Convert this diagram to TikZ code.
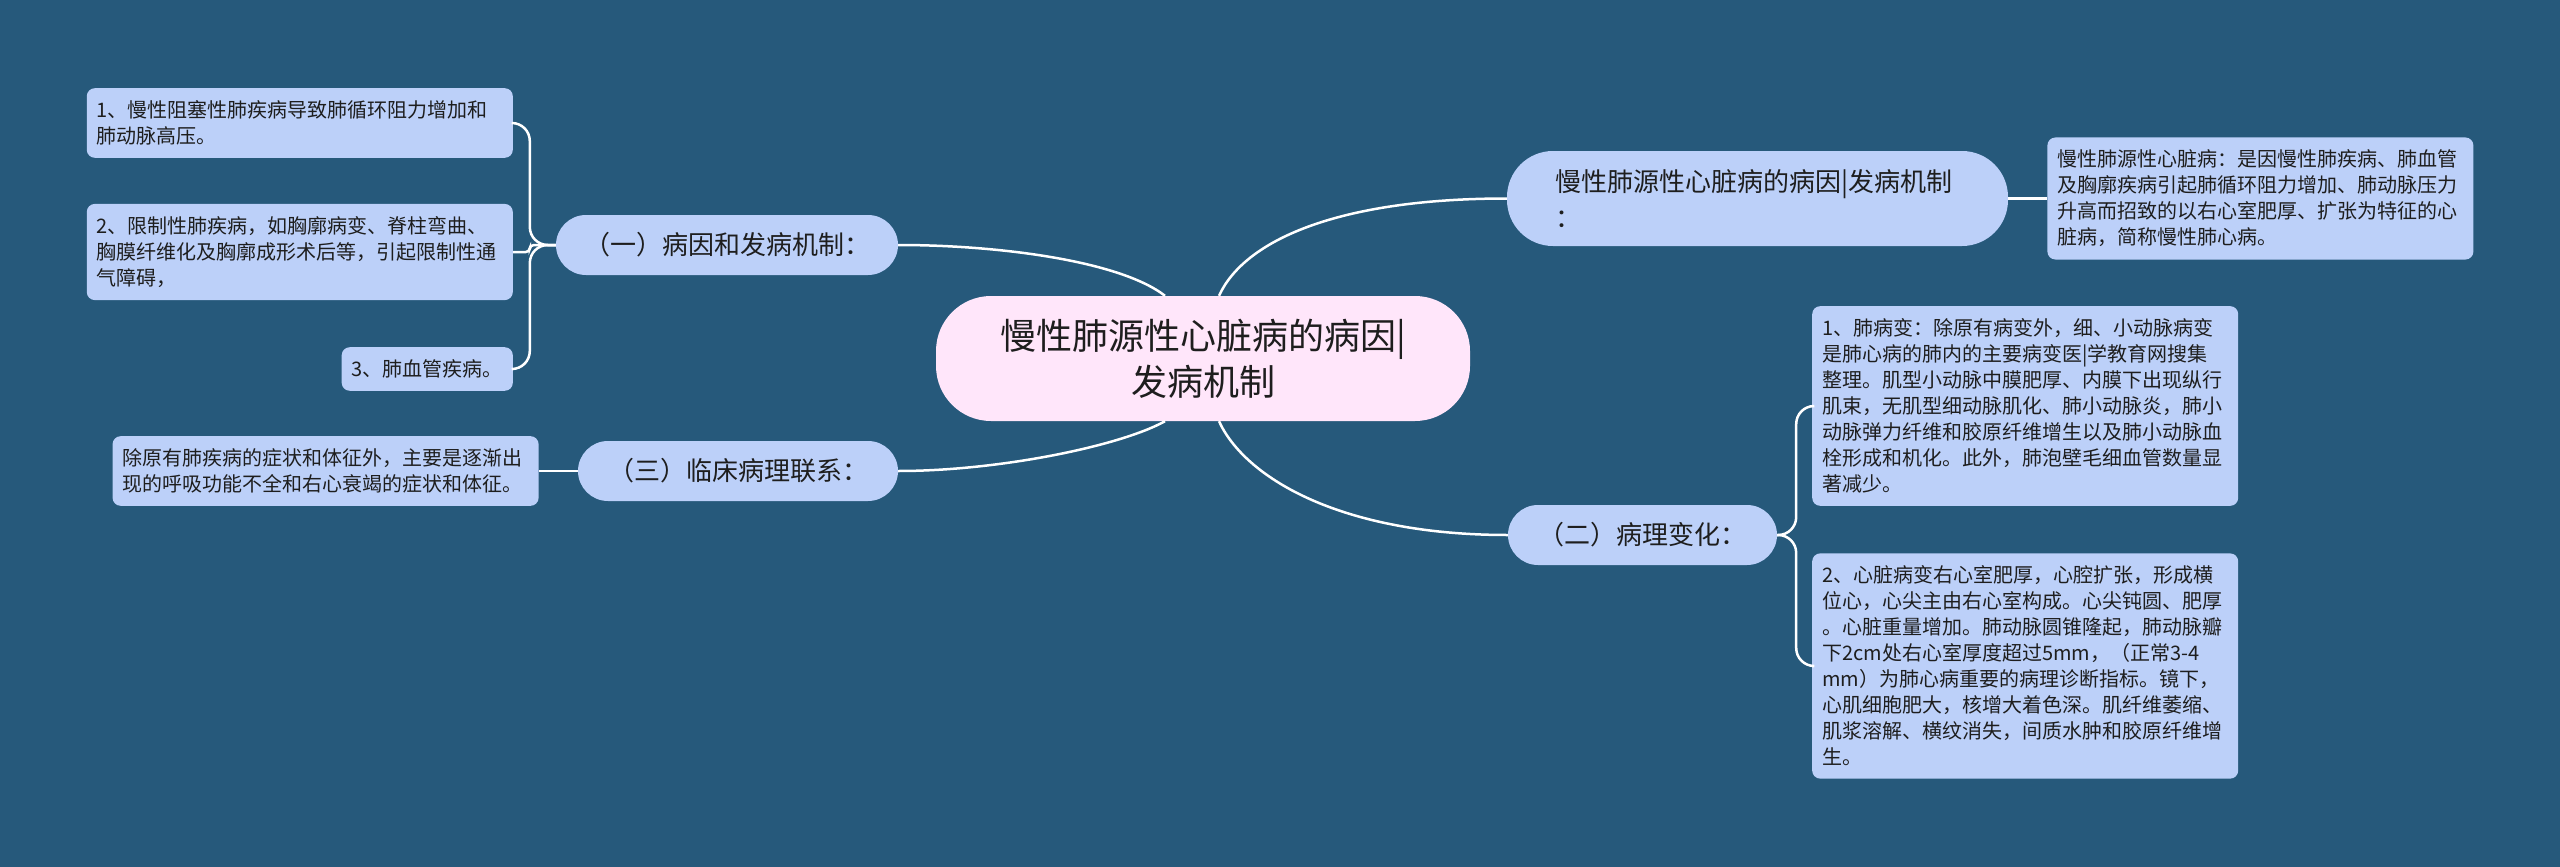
\documentclass[tikz,border=0pt]{standalone}
\usepackage{fontspec}
\setmainfont{Noto Sans CJK SC}
\usetikzlibrary{positioning}
\definecolor{bgblue}{RGB}{38,89,123}
\definecolor{leafblue}{RGB}{188,208,249}
\definecolor{hubpink}{RGB}{255,230,250}
\definecolor{inkgray}{RGB}{30,30,30}
\tikzset{
  hub/.style={rectangle, rounded corners=55pt, fill=hubpink, text=inkgray,
              minimum width=534pt, minimum height=125pt, align=center,
              font=\fontsize{36}{46}\selectfont},
  topic/.style={rectangle, rounded corners=30pt, fill=leafblue, text=inkgray,
              minimum height=60pt, align=center, font=\fontsize{26}{36}\selectfont},
  leaf/.style={rectangle, rounded corners=8pt, fill=leafblue, text=inkgray,
              inner xsep=10pt, inner ysep=12.5pt, align=left,
              font=\fontsize{20}{26}\selectfont},
  wide/.style={text width=406pt},
  link/.style={draw=white, line width=2.5pt}
}
\begin{document}
\begin{tikzpicture}[x=1pt, y=-1pt]
\useasboundingbox (0,0) rectangle (2560,867);
\fill[bgblue] (0,0) rectangle (2560,867);

% centre
\node (hub) [hub] at (1203,358.5) {慢性肺源性心脏病的病因|\\发病机制};

% left side
\node (B1) [topic, minimum width=342pt] at (727,245) {（一）病因和发病机制：};
\node (L1) [leaf, wide, anchor=east] at (513,123) {1、慢性阻塞性肺疾病导致肺循环阻力增加和\\肺动脉高压。};
\node (L2) [leaf, wide, anchor=east] at (513,252) {2、限制性肺疾病，如胸廓病变、脊柱弯曲、\\胸膜纤维化及胸廓成形术后等，引起限制性通\\气障碍，};
\node (L3) [leaf, anchor=east] at (513,369) {3、肺血管疾病。};
 \draw[link, rounded corners=18pt] (B1.west) -- ++(-26,0) |- (L1.east);
 \draw[link, rounded corners=4pt] (B1.west) -- ++(-26,0) |- (L2.east);
 \draw[link, rounded corners=18pt] (B1.west) -- ++(-26,0) |- (L3.east);

\node (B3) [topic, minimum width=320pt] at (738,471) {（三）临床病理联系：};
\node (L4) [leaf, wide, left=39pt of B3] {除原有肺疾病的症状和体征外，主要是逐渐出\\现的呼吸功能不全和右心衰竭的症状和体征。};
 \draw[link] (B3.west) -- (L4.east);

% right side
\node (TR) [topic, rounded corners=46pt, align=left, text width=405pt,
            inner xsep=48pt, minimum height=95pt] at (1757.5,198.5)
            {慢性肺源性心脏病的病因|发病机制\\：};
\node (R1) [leaf, wide, right=39pt of TR] {慢性肺源性心脏病：是因慢性肺疾病、肺血管\\及胸廓疾病引起肺循环阻力增加、肺动脉压力\\升高而招致的以右心室肥厚、扩张为特征的心\\脏病，简称慢性肺心病。};
 \draw[link] (TR.east) -- (R1.west);

\node (B2) [topic, minimum width=269pt] at (1642.5,535) {（二）病理变化：};
\node (R2a) [leaf, wide, anchor=west] at (1812,406) {1、肺病变：除原有病变外，细、小动脉病变\\是肺心病的肺内的主要病变医|学教育网搜集\\整理。肌型小动脉中膜肥厚、内膜下出现纵行\\肌束，无肌型细动脉肌化、肺小动脉炎，肺小\\动脉弹力纤维和胶原纤维增生以及肺小动脉血\\栓形成和机化。此外，肺泡壁毛细血管数量显\\著减少。};
\node (R2b) [leaf, wide, anchor=west] at (1812,666) {2、心脏病变右心室肥厚，心腔扩张，形成横\\位心，心尖主由右心室构成。心尖钝圆、肥厚\\。心脏重量增加。肺动脉圆锥隆起，肺动脉瓣\\下2cm处右心室厚度超过5mm，（正常3-4\\mm）为肺心病重要的病理诊断指标。镜下，\\心肌细胞肥大，核增大着色深。肌纤维萎缩、\\肌浆溶解、横纹消失，间质水肿和胶原纤维增\\生。};
 \draw[link, rounded corners=18pt] (B2.east) -- ++(19,0) |- (R2a.west);
 \draw[link, rounded corners=18pt] (B2.east) -- ++(19,0) |- (R2b.west);

% branches out of the centre
\draw[link] (B1.east) .. controls +(100,0) and +(-45,-35) .. ([xshift=-38pt]hub.north);
\draw[link] (B3.east) .. controls +(100,0) and +(-45,25) .. ([xshift=-38pt]hub.south);
\draw[link] (TR.west) .. controls +(-170,0) and +(25,-55) .. ([xshift=16pt]hub.north);
\draw[link] (B2.west) .. controls +(-170,0) and +(25,55) .. ([xshift=16pt]hub.south);

\end{tikzpicture}
\end{document}
